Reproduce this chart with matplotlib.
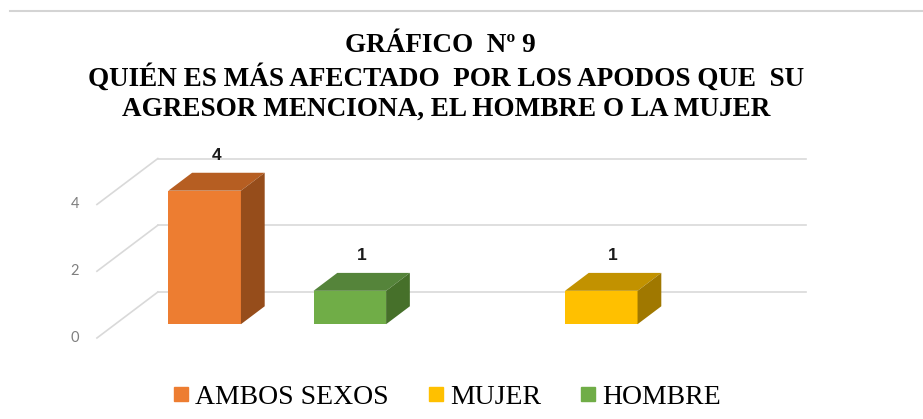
import matplotlib.pyplot as plt
from matplotlib.patches import Polygon
from matplotlib.lines import Line2D

# data (two unlabeled category groups)
series = ["AMBOS SEXOS", "MUJER", "HOMBRE"]
ambos_sexos = [4, 0]
mujer = [0, 1]
hombre = [1, 0]
values = [ambos_sexos, mujer, hombre]
yticks = [0, 2, 4]

title_lines = ["GRÁFICO  Nº 9",
               "QUIÉN ES MÁS AFECTADO  POR LOS APODOS QUE  SU",
               "AGRESOR MENCIONA, EL HOMBRE O LA MUJER"]

# front / top / side face colours for each series
front = ["#ED7D31", "#FFC000", "#70AD47"]
top = ["#B65E22", "#C29200", "#55843A"]
side = ["#964D1B", "#A07800", "#46702A"]

# fake 3d geometry, in data units
DX, DY = 0.188, 1.377   # floor depth (front -> back wall)
W = 0.224               # bar width
DF, DB = 0.30, 0.69     # depth fraction of bar front / back


def proj(x, v, d):
    return (x - (1 - d) * DX, v - (1 - d) * DY)


fig = plt.figure(figsize=(9.23, 4.19), dpi=100)
ax = fig.add_axes([0.065, 0.1766, 0.845, 0.489])
ax.set_xlim(-0.302, 2.105)
ax.set_ylim(-1.587, 4.551)
ax.set_axis_off()

grid = "#d9d9d9"
ncat = len(ambos_sexos)
for v in yticks:
    ax.plot([0, ncat], [v, v], color=grid, lw=1.2, zorder=1)
    p0, p1 = proj(0, v, 0), proj(0, v, 1)
    ax.plot([p0[0], p1[0]], [p0[1], p1[1]], color=grid, lw=1.2, zorder=1)
    ax.annotate(str(v), p0, xytext=(-13, 0), textcoords="offset points",
                ha="right", va="center", fontsize=10.5, color="#7f7f7f",
                family="Lato")

for k, vals in enumerate(values):
    for i, v in enumerate(vals):
        if v == 0:
            continue
        c = i + 0.5 + (k - 1) * W
        x0, x1 = c - W / 2, c + W / 2
        faces = [
            ([proj(x0, 0, DF), proj(x1, 0, DF), proj(x1, v, DF), proj(x0, v, DF)], front[k]),
            ([proj(x0, v, DF), proj(x1, v, DF), proj(x1, v, DB), proj(x0, v, DB)], top[k]),
            ([proj(x1, 0, DF), proj(x1, 0, DB), proj(x1, v, DB), proj(x1, v, DF)], side[k]),
        ]
        for pts, col in faces:
            ax.add_patch(Polygon(pts, closed=True, facecolor=col, edgecolor="none", zorder=3))
        ax.annotate(str(v), proj(c, v, (DF + DB) / 2), xytext=(0, 19),
                    textcoords="offset points", ha="center", va="center",
                    fontsize=12.5, fontweight="bold", color="#1a1a1a",
                    family="Liberation Sans")

for txt, xf, yf in zip(title_lines, [0.477, 0.483, 0.483], [0.876, 0.795, 0.723]):
    fig.text(xf, yf, txt, ha="center", va="baseline", fontsize=19.5,
             fontweight="bold", family="Liberation Serif")

fig.add_artist(Line2D([0.011, 1.0], [0.973, 0.973], color="#d4d4d4", lw=1.5))

handles = [Line2D([], [], marker="s", ls="none", markersize=9.5, color=front[k])
           for k in range(len(series))]
fig.legend(handles, series, loc="center", bbox_to_anchor=(0.484, 0.0525),
           ncol=3, frameon=False, handlelength=0.6, handletextpad=0.2,
           columnspacing=1.4, prop={"family": "Liberation Serif", "size": 20})

fig.savefig("out.png", dpi=100)
